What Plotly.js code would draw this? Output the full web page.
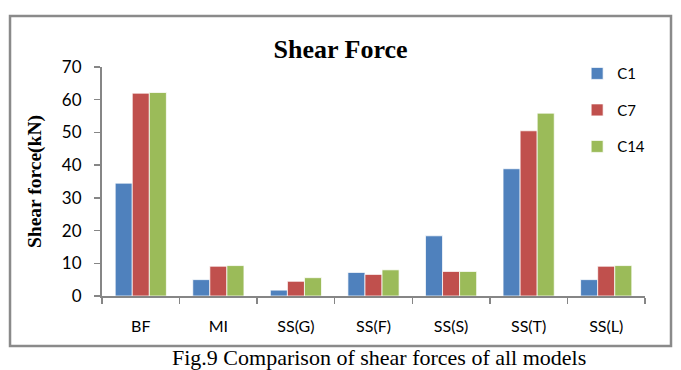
<!DOCTYPE html>
<html>
<head>
<meta charset="utf-8">
<script src="https://cdn.plot.ly/plotly-3.0.1.min.js"></script>
<style>html,body{margin:0;padding:0;background:#fff;}#chart{width:681px;height:370px;}</style>
</head>
<body>
<div id="chart"></div>
<script>
const categories = ["BF", "MI", "SS(G)", "SS(F)", "SS(S)", "SS(T)", "SS(L)"];
const seriesNames = ["C1", "C7", "C14"];
const c1Values = [34.5, 5.0, 1.8, 7.2, 18.4, 38.9, 5.0];
const c7Values = [62.0, 9.1, 4.5, 6.6, 7.5, 50.5, 9.1];
const c14Values = [62.2, 9.3, 5.6, 8.0, 7.5, 55.9, 9.3];
const yTickValues = [0, 10, 20, 30, 40, 50, 60, 70];
const colors = ["#4F81BD", "#C0504D", "#9BBB59"];

const allValues = [c1Values, c7Values, c14Values];
const traces = allValues.map((vals, i) => ({
  type: "bar",
  name: seriesNames[i],
  x: categories,
  y: vals,
  legendgroup: "g" + i,
  marker: {color: colors[i], line: {color: "rgba(255,255,255,0.75)", width: 1}},
  hoverinfo: "x+y+name"
}));

const axisGray = "#868686";
const layout = {
  width: 681,
  height: 370,
  margin: {l: 102, r: 36, t: 67, b: 74, pad: 0},
  paper_bgcolor: "#ffffff",
  plot_bgcolor: "#ffffff",
  barmode: "group",
  bargap: 0.34,
  bargroupgap: 0,
  title: {
    text: "<b>Shear Force</b>",
    font: {family: "Liberation Serif, Times New Roman, serif", size: 26, color: "#000"},
    x: 0.5, xref: "container", xanchor: "center",
    y: 0.868, yref: "container", yanchor: "middle"
  },
  xaxis: {
    type: "category",
    showline: true, linecolor: axisGray, linewidth: 2,
    ticks: "outside", tickson: "boundaries", ticklen: 6, tickcolor: axisGray, tickwidth: 1.5,
    showgrid: false, zeroline: false,
    ticklabelstandoff: 15,
    tickfont: {family: "Lato, Open Sans, sans-serif", size: 16, color: "#000"},
    fixedrange: true
  },
  yaxis: {
    range: [0, 70],
    tickvals: yTickValues,
    showline: true, linecolor: axisGray, linewidth: 2,
    ticks: "outside", ticklen: 6, tickcolor: axisGray, tickwidth: 1.5,
    showgrid: false, zeroline: false,
    ticklabelstandoff: 9,
    tickfont: {family: "Lato, Open Sans, sans-serif", size: 17, color: "#000"},
    fixedrange: true
  },
  showlegend: true,
  legend: {
    x: 0.875, xanchor: "left", xref: "paper",
    y: 1.043, yanchor: "top", yref: "paper",
    bgcolor: "rgba(0,0,0,0)",
    font: {family: "Lato, Open Sans, sans-serif", size: 15, color: "#000"},
    tracegroupgap: 14,
    traceorder: "grouped"
  },
  shapes: [{
    type: "rect", xref: "paper", yref: "paper",
    x0: -0.1694, x1: 1.0479, y0: -0.2183, y1: 1.2227,
    line: {color: "#8a8a8a", width: 2.5}, fillcolor: "rgba(0,0,0,0)", layer: "below"
  }],
  annotations: [
    {
      text: "<b>Shear force(kN)</b>", textangle: -90,
      xref: "paper", yref: "paper", x: -0.1234, y: 0.502,
      xanchor: "center", yanchor: "middle", showarrow: false,
      font: {family: "Liberation Serif, Times New Roman, serif", size: 19.5, color: "#000"}
    },
    {
      text: "Fig.9 Comparison of shear forces of all models",
      xref: "paper", yref: "paper", x: 0.510, y: -0.2707,
      xanchor: "center", yanchor: "middle", showarrow: false,
      font: {family: "Liberation Serif, Times New Roman, serif", size: 22, color: "#000"}
    }
  ]
};

Plotly.newPlot("chart", traces, layout, {displayModeBar: false, staticPlot: true});
</script>
</body>
</html>
